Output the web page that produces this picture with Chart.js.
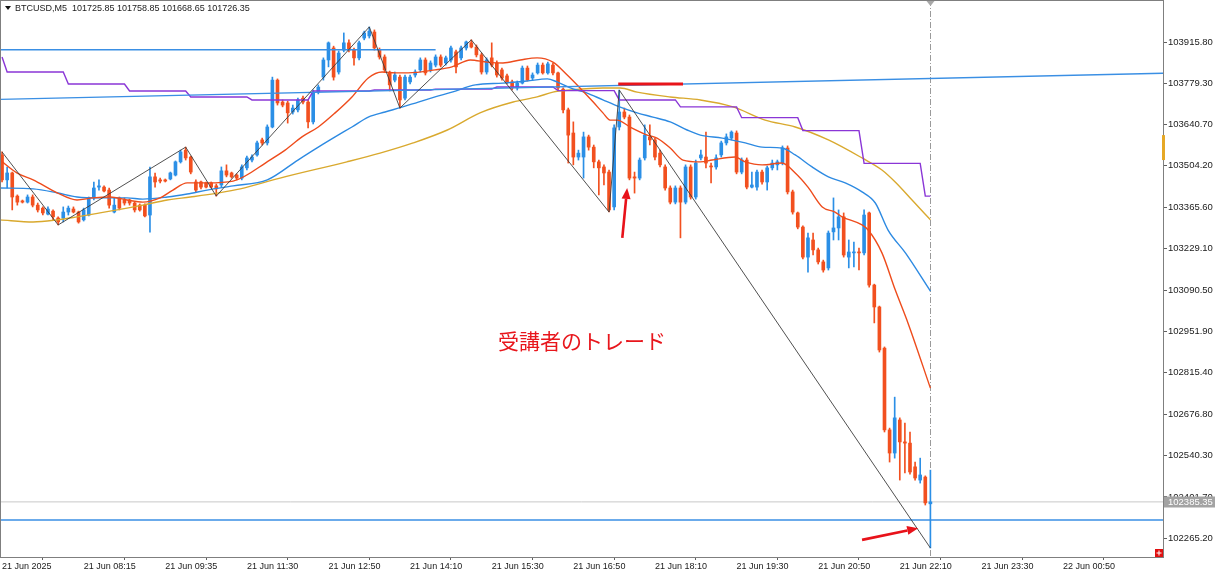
<!DOCTYPE html>
<html><head><meta charset="utf-8">
<script src="https://cdn.jsdelivr.net/npm/chart.js@4.4.1/dist/chart.umd.min.js"></script>
<style>html,body{margin:0;padding:0;background:#fff;}canvas{display:block;}</style>
</head><body>
<canvas id="c" width="1220" height="578"></canvas>
<script>
// ---------- DATA ----------
const xLabels = ['21 Jun 2025','21 Jun 08:15','21 Jun 09:35','21 Jun 11:30','21 Jun 12:50','21 Jun 14:10','21 Jun 15:30','21 Jun 16:50','21 Jun 18:10','21 Jun 19:30','21 Jun 20:50','21 Jun 22:10','21 Jun 23:30','22 Jun 00:50'];
const barsPerLabel = 16;
const yTicks = [103915.80,103779.30,103640.70,103504.20,103365.60,103229.10,103090.50,102951.90,102815.40,102676.80,102540.30,102401.70,102265.20];

const opens = [103540,103457,103480,103403,103387,103383,103400,103373,103363,103343,
103353,103330,103330,103350,103360,103350,103324,103340,103397,103433,
103433,103423,103350,103397,103390,103390,103380,103373,103373,103340,
103467,103457,103457,103460,103473,103517,103556,103533,103450,103450,
103447,103447,103437,103440,103487,103480,103473,103463,103497,103523,
103540,103590,103580,103633,103789,103716,103713,103683,103690,103729,
103716,103650,103749,103799,103856,103896,103816,103889,103913,103889,
103863,103929,103936,103949,103889,103866,103813,103789,103799,103729,
103783,103806,103823,103856,103823,103839,103866,103846,103856,103883,
103863,103896,103913,103899,103873,103816,103863,103846,103823,103803,
103783,103763,103779,103829,103796,103813,103839,103813,103839,103813,
103759,103690,103613,103533,103533,103600,103566,103517,103500,103483,
103367,103633,103683,103666,103467,103463,103530,103600,103590,103546,
103500,103430,103383,103430,103383,103500,103400,103530,103533,103503,
103500,103540,103580,103596,103613,103483,103523,103433,103433,103483,
103450,103497,103507,103513,103563,103417,103347,103300,103200,103257,
103224,103184,103164,103284,103297,103334,103200,103214,103217,103214,
103347,103107,103034,102897,102625,102548,102658,102585,102581,102502,
102458,102468,102379];
const highs = [103550,103500,103483,103407,103390,103407,103407,103380,103367,103367,
103357,103334,103367,103370,103367,103353,103363,103400,103450,103457,
103437,103430,103397,103400,103397,103393,103383,103377,103377,103500,
103480,103463,103460,103483,103520,103556,103566,103536,103457,103453,
103450,103450,103443,103500,103507,103483,103477,103507,103536,103540,
103586,103596,103640,103799,103793,103723,103719,103706,103729,103736,
103723,103756,103773,103863,103916,103902,103886,103946,103923,103896,
103919,103952,103966,103956,103896,103873,103819,103816,103806,103806,
103806,103823,103863,103863,103853,103873,103873,103869,103902,103889,
103902,103919,103923,103906,103879,103863,103913,103853,103829,103809,
103789,103786,103836,103836,103813,103846,103846,103849,103846,103816,
103763,103696,103650,103556,103616,103606,103573,103523,103507,103490,
103640,103756,103696,103673,103483,103530,103640,103640,103596,103556,
103507,103437,103437,103437,103507,103507,103523,103556,103616,103513,
103540,103586,103610,103620,103620,103530,103530,103483,103490,103490,
103503,103523,103523,103570,103570,103423,103350,103304,103280,103280,
103230,103190,103287,103397,103357,103347,103257,103250,103230,103357,
103350,103110,103037,102901,102631,102734,102665,102648,102618,102518,
102531,102472,102491];
const lows = [103450,103430,103357,103373,103380,103380,103367,103350,103340,103340,
103324,103307,103317,103340,103347,103313,103320,103337,103390,103423,
103417,103363,103347,103357,103373,103373,103350,103353,103334,103283,
103433,103447,103450,103457,103470,103513,103523,103477,103417,103427,
103430,103430,103403,103433,103467,103463,103457,103457,103490,103517,
103536,103573,103573,103630,103706,103700,103646,103676,103683,103710,
103630,103643,103743,103789,103833,103789,103809,103883,103883,103839,
103856,103923,103929,103889,103859,103816,103753,103783,103696,103723,
103776,103799,103816,103806,103816,103833,103833,103839,103849,103813,
103856,103889,103896,103866,103809,103809,103833,103799,103789,103776,
103756,103756,103776,103786,103789,103809,103809,103809,103806,103756,
103680,103513,103507,103523,103463,103556,103497,103407,103440,103350,
103357,103623,103660,103457,103413,103457,103523,103573,103523,103500,
103423,103377,103377,103264,103377,103393,103393,103523,103497,103447,
103493,103533,103573,103590,103477,103477,103427,103430,103423,103443,
103423,103490,103490,103507,103410,103343,103294,103194,103150,103207,
103177,103150,103157,103257,103257,103200,103164,103167,103157,103207,
103100,102981,102884,102618,102518,102531,102458,102482,102478,102458,
102448,102375,102232];
const closes = [103457,103480,103400,103383,103383,103400,103373,103357,103347,103360,
103334,103317,103350,103363,103350,103317,103357,103397,103430,103437,
103420,103373,103373,103363,103380,103380,103357,103357,103337,103467,
103450,103453,103453,103480,103517,103550,103530,103483,103423,103433,
103433,103433,103427,103487,103473,103467,103463,103500,103530,103533,
103580,103580,103633,103789,103713,103706,103680,103696,103723,103716,
103650,103749,103766,103856,103913,103799,103879,103913,103889,103863,
103913,103946,103952,103896,103866,103823,103773,103806,103723,103799,
103799,103816,103856,103813,103846,103866,103839,103863,103896,103833,
103896,103916,103899,103873,103816,103856,103839,103806,103796,103783,
103763,103779,103829,103789,103806,103839,103813,103843,103813,103763,
103690,103606,103533,103546,103600,103566,103517,103497,103480,103357,
103630,103683,103666,103463,103463,103523,103606,103590,103533,103507,
103430,103383,103430,103383,103500,103400,103513,103540,103513,103500,
103530,103580,103600,103616,103483,103523,103433,103440,103483,103450,
103497,103513,103517,103563,103417,103350,103300,103200,103264,103224,
103184,103157,103280,103297,103334,103207,103217,103217,103214,103340,
103107,103034,102891,102625,102548,102665,102585,102581,102485,102465,
102475,102382,102385.35];

const bidPrice = 102385.35;
const maFast = [[-0.4,103523],[2.9,103480],[6.1,103457],[10.8,103414],[14.7,103390],[17.8,103397],[21.2,103400],[24.5,103390],[27.6,103383],[31,103397],[33.5,103423],[36.3,103447],[40.2,103447],[45.3,103453],[52.5,103523],[55.5,103556],[58.8,103600],[62,103633],[65.3,103680],[68.6,103733],[71.8,103796],[74.5,103816],[77.1,103813],[79.6,103813],[84.9,103823],[88.2,103833],[91.8,103856],[95.1,103849],[98.2,103846],[101.6,103856],[104.9,103863],[108,103849],[110.8,103806],[113.3,103763],[115.9,103716],[117.8,103680],[119.2,103656],[120.6,103656],[123.1,103633],[126.5,103606],[128.4,103596],[131,103563],[133.5,103523],[136.9,103517],[139.2,103523],[143.7,103533],[145.7,103517],[149,103507],[152.9,103513],[155.5,103480],[158,103433],[160.8,103367],[163.3,103350],[164.7,103334],[168.6,103307],[169.8,103290],[172.5,103214],[175.1,103091],[177.6,102981],[182,102764]];
const maMid = [[-0.4,103430],[6.1,103427],[10.8,103414],[14.7,103400],[19.2,103397],[24.5,103397],[27.6,103393],[32.4,103400],[36.3,103410],[40.2,103423],[45.3,103437],[52,103457],[58,103523],[62,103566],[65.3,103600],[68.6,103633],[71.8,103666],[75.1,103683],[78.4,103699],[81.6,103716],[84.9,103733],[88.2,103749],[92.8,103773],[98.2,103779],[102.9,103786],[106.9,103793],[108.8,103783],[111.4,103763],[114.7,103746],[117.8,103723],[121.2,103699],[124.5,103680],[127.6,103666],[131,103650],[134.3,103623],[136.9,103606],[141.2,103596],[145.7,103580],[149,103566],[152.9,103563],[155.5,103540],[158.8,103500],[162,103467],[165.3,103447],[168.6,103417],[171.2,103380],[173.7,103290],[177.1,103214],[182,103087]];
const maSlow = [[-0.4,103324],[6.1,103317],[10.8,103324],[14.7,103334],[19.2,103347],[24.5,103363],[27.6,103373],[32.4,103390],[36.9,103400],[42.2,103413],[46.7,103427],[54.5,103463],[67.6,103517],[74.1,103546],[80.6,103580],[87.3,103623],[93.7,103680],[100.2,103716],[104.9,103733],[108,103749],[111.4,103756],[117.8,103763],[121.2,103763],[124.5,103749],[131,103733],[136.9,103723],[143.3,103700],[149.6,103656],[155.5,103633],[162,103590],[168.6,103530],[172.5,103490],[175.1,103450],[178.4,103390],[182,103324]];
const htfLine = [[0,103866],[1,103816],[12,103816],[13,103776],[24,103776],[25,103753],[36,103753],[37,103733],[48,103733],[49,103723],[60,103723],[61,103753],[72,103753],[73,103756],[84,103756],[85,103759],[96,103759],[97,103766],[108,103766],[109,103754],[120,103754],[121,103723],[132,103723],[133,103700],[144,103700],[145,103664],[156,103664],[157,103621],[168,103621],[169,103512],[180,103512],[181,103403],[182,103403]];
const zigzag = [[0,103550],[11,103307],[36,103566],[42,103403],[72,103966],[78,103696],[92,103923],[119,103350],[121,103756],[182,102232]];
const trendLine = [[-0.4,103725],[227.6,103812]];
const levelTop = [[-0.4,103890],[85,103890]];
const levelBottom = [[-0.4,102325],[227.6,102325]];
const tradeSeg = [[120.8,103776],[133.5,103776]];
const noteText = {x:113.7, y:102921, text:'受講者のトレード'};
const arrows = [[121.6,103264,122.55,103430],[168.6,102259,179.6,102298]];
const titleText = 'BTCUSD,M5  101725.85 101758.85 101668.65 101726.35';
const axisMarker = [103606,103523];

// ---------- CHART ----------
const X_MIN = -0.4, X_MAX = 227.6, Y_MIN = 102202.0, Y_MAX = 104055.6;
const UP = '#2b8fe6', DN = '#f2501f';
const idx = opens.map((_, i) => i);
const colorFn = c => closes[c.dataIndex] >= opens[c.dataIndex] ? UP : DN;
const pts = arr => arr.map(p => ({x: p[0], y: p[1]}));
const line = (data, color, width, order, extra) => Object.assign({type:'line', data: pts(data), borderColor: color, borderWidth: width, pointRadius: 0, fill: false, tension: 0, order}, extra || {});

const overlay = {
  id: 'overlay',
  beforeDraw(chart) {
    const ctx = chart.ctx; ctx.save(); ctx.fillStyle = '#fff'; ctx.fillRect(0, 0, chart.width, chart.height); ctx.restore();
  },
  beforeDatasetsDraw(chart) {
    const {ctx, chartArea: a, scales: {x}} = chart;
    const xv = Math.round(x.getPixelForValue(idx[idx.length - 1])) + 0.5;
    ctx.save();
    ctx.strokeStyle = '#9a9a9a'; ctx.lineWidth = 1; ctx.setLineDash([6, 2, 1, 2]);
    ctx.beginPath(); ctx.moveTo(xv, a.top); ctx.lineTo(xv, a.bottom); ctx.stroke();
    ctx.restore();
  },
  afterDatasetsDraw(chart) {
    const {ctx, chartArea: a, scales: {x, y}} = chart;
    ctx.save();
    ctx.fillStyle = '#e8161c';
    ctx.font = '21px "Noto Sans CJK JP"';
    ctx.textAlign = 'center'; ctx.textBaseline = 'middle';
    ctx.fillText(noteText.text, x.getPixelForValue(noteText.x), y.getPixelForValue(noteText.y));
    arrows.forEach(ar => {
      const x1 = x.getPixelForValue(ar[0]), y1 = y.getPixelForValue(ar[1]);
      const x2 = x.getPixelForValue(ar[2]), y2 = y.getPixelForValue(ar[3]);
      const ang = Math.atan2(y2 - y1, x2 - x1), L = 11, W = 4.5;
      const bx = x2 - L * Math.cos(ang), by = y2 - L * Math.sin(ang);
      ctx.strokeStyle = '#e8121a'; ctx.fillStyle = '#e8121a'; ctx.lineWidth = 2.6;
      ctx.beginPath(); ctx.moveTo(x1, y1); ctx.lineTo(bx, by); ctx.stroke();
      ctx.beginPath(); ctx.moveTo(x2, y2);
      ctx.lineTo(bx + W * Math.sin(ang), by - W * Math.cos(ang));
      ctx.lineTo(bx - W * Math.sin(ang), by + W * Math.cos(ang));
      ctx.closePath(); ctx.fill();
    });
    const xv = Math.round(x.getPixelForValue(idx[idx.length - 1])) + 0.5;
    ctx.fillStyle = '#a8a8a8';
    ctx.beginPath(); ctx.moveTo(xv - 4, a.top + 1); ctx.lineTo(xv + 4, a.top + 1); ctx.lineTo(xv, a.top + 6); ctx.closePath(); ctx.fill();
    ctx.restore();
  },
  afterDraw(chart) {
    const {ctx, chartArea: a, scales: {y}} = chart;
    ctx.save();
    ctx.strokeStyle = '#7f7f7f'; ctx.lineWidth = 1;
    ctx.strokeRect(0.5, 0.5, a.right, a.bottom);
    ctx.fillStyle = '#111';
    ctx.beginPath(); ctx.moveTo(5, 6); ctx.lineTo(11, 6); ctx.lineTo(8, 10); ctx.closePath(); ctx.fill();
    ctx.font = '9px "Liberation Sans"'; ctx.textBaseline = 'middle'; ctx.textAlign = 'left';
    ctx.fillStyle = '#1a1a1a';
    ctx.fillText(titleText, 15, 9);
    const by = y.getPixelForValue(bidPrice);
    ctx.fillStyle = '#a3a3a3';
    ctx.fillRect(a.right + 1, Math.round(by) - 5.5, 51, 11);
    ctx.fillStyle = '#ffffff';
    ctx.font = '9.5px "Liberation Sans"';
    ctx.fillText(bidPrice.toFixed(2), a.right + 5, by + 0.5);
    const m1 = y.getPixelForValue(axisMarker[0]), m2 = y.getPixelForValue(axisMarker[1]);
    ctx.fillStyle = '#e6a826';
    ctx.fillRect(a.right - 1, m1, 3, m2 - m1);
    ctx.fillStyle = '#e01010';
    ctx.fillRect(a.right - 8, a.bottom - 8, 8, 8);
    ctx.strokeStyle = '#fff'; ctx.lineWidth = 1;
    ctx.beginPath(); ctx.moveTo(a.right - 6.5, a.bottom - 4); ctx.lineTo(a.right - 1.5, a.bottom - 4);
    ctx.moveTo(a.right - 4, a.bottom - 6.5); ctx.lineTo(a.right - 4, a.bottom - 1.5); ctx.stroke();
    ctx.restore();
  }
};

new Chart(document.getElementById('c'), {
  type: 'bar',
  data: { datasets: [
    line([[X_MIN, bidPrice], [X_MAX, bidPrice]], '#c8c8c8', 1, 40),
    line(levelBottom, '#3a8fe4', 1.4, 38),
    {type: 'bar', data: idx.map(i => ({x: i, y: [lows[i], highs[i]]})), backgroundColor: colorFn, barThickness: 1, grouped: false, order: 30},
    {type: 'bar', data: idx.map(i => ({x: i, y: [opens[i], closes[i]]})), backgroundColor: colorFn, barThickness: 3, minBarLength: 1, grouped: false, order: 29},
    line(maSlow, '#d9a92e', 1.4, 12, {cubicInterpolationMode: 'monotone'}),
    line(maMid, '#2d8ae2', 1.4, 11, {cubicInterpolationMode: 'monotone'}),
    line(maFast, '#ee4c1c', 1.4, 10, {cubicInterpolationMode: 'monotone'}),
    line(htfLine, '#8a36d6', 1.4, 9),
    line(trendLine, '#3a8fe4', 1.4, 8),
    line(levelTop, '#3a8fe4', 1.4, 8),
    line(zigzag, '#3c3c3c', 0.9, 7),
    line(tradeSeg, '#e8141a', 3, 6)
  ]},
  options: {
    responsive: false, animation: false,
    layout: {padding: 0},
    plugins: {legend: {display: false}, tooltip: {enabled: false}},
    scales: {
      x: {
        type: 'linear', min: X_MIN, max: X_MAX, offset: false, position: 'bottom',
        afterBuildTicks(s) { s.ticks = xLabels.map((_, k) => ({value: k * barsPerLabel})); },
        afterFit(s) { s.height = 21; s.paddingLeft = 0; s.paddingRight = 0; },
        grid: {drawOnChartArea: false, drawTicks: true, tickLength: 3, color: '#606060'},
        border: {display: false},
        ticks: {autoSkip: false, maxRotation: 0, minRotation: 0, align: 'start', padding: 1, color: '#1a1a1a',
          font: {family: 'Liberation Sans', size: 9}, callback: (v, i) => xLabels[i]}
      },
      y: {
        type: 'linear', position: 'right', min: Y_MIN, max: Y_MAX,
        afterBuildTicks(s) { s.ticks = yTicks.map(v => ({value: v})); },
        afterFit(s) { s.width = 57; s.paddingTop = 0; s.paddingBottom = 0; },
        grid: {drawOnChartArea: false, drawTicks: true, tickLength: 4, color: '#606060'},
        border: {display: false},
        ticks: {padding: 1, color: '#1a1a1a', font: {family: 'Liberation Sans', size: 9.5}, callback: v => v.toFixed(2)}
      }
    }
  },
  plugins: [overlay]
});
</script>
</body></html>
